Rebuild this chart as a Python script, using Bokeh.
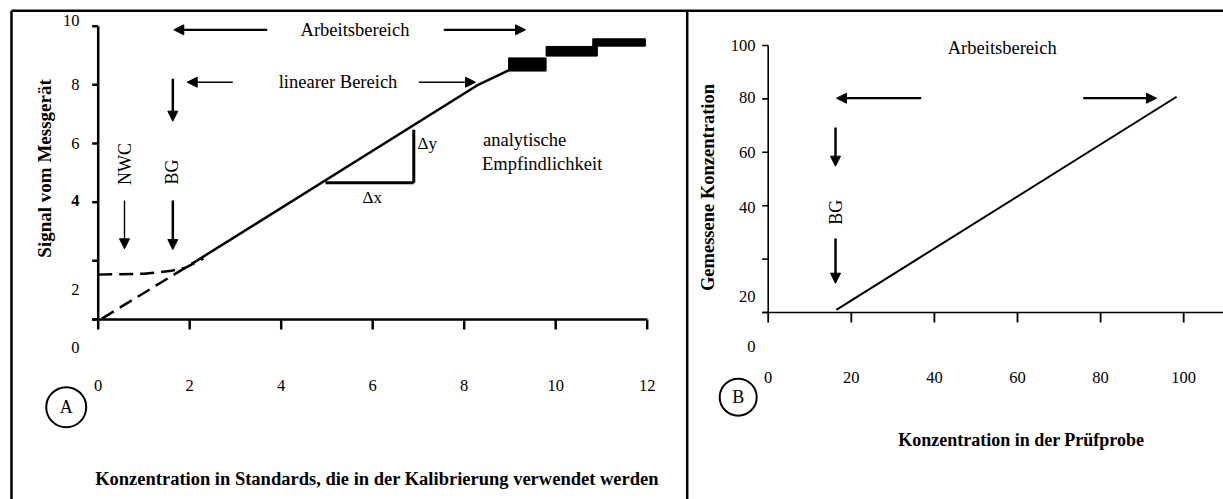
from math import pi
from bokeh.plotting import figure
from bokeh.models import Range1d, Arrow, NormalHead, ColumnDataSource
from bokeh.core.properties import value
from bokeh.embed import file_html
from bokeh.resources import INLINE

# ---------------- data ----------------
# Panel A: calibration function (signal vs. concentration of standards)
a_linear_x = [2.15, 8.28, 8.97]
a_linear_y = [2.00, 7.98, 8.49]
a_extrap_x = [0.08, 2.15]
a_extrap_y = [0.03, 2.00]
a_blank_x = [0.0, 1.0, 1.6, 1.9, 2.3]
a_blank_y = [1.53, 1.56, 1.66, 1.76, 2.08]
a_sat_left = [8.97, 9.79, 10.81]
a_sat_right = [9.79, 10.91, 11.96]
a_sat_bottom = [8.47, 8.98, 9.32]
a_sat_top = [8.92, 9.31, 9.57]
a_xticks = [0, 2, 4, 6, 8, 10, 12]
a_xtick_labels = ["0", "2", "4", "6", "8", "10", "12"]
a_yticks = [0, 2, 4, 6, 8, 10]
a_ytick_labels = ["0", "2", "4", "6", "8", "10"]

# Panel B: measured vs. true concentration
b_line_x = [16.4, 98.3]
b_line_y = [1.0, 80.8]
b_xticks = [0, 20, 40, 60, 80, 100]
b_xtick_labels = ["0", "20", "40", "60", "80", "100"]
b_yticks = [0, 20, 40, 60, 80, 100]
b_ytick_labels = ["0", "20", "40", "60", "80", "100"]

# ---------------- layout (scales) ----------------
W, H = 1223, 499
PAGE_X0, PAGE_Y0 = 0, 0
# panel A: data origin / pixels per unit
A_OX, A_OY, A_PX, A_PY = 97.7, 319.0, 45.75, 29.33
# panel B
B_OX, B_OY, B_PX, B_PY = 767.7, 312.0, 4.155, 2.67

a_xr = Range1d((PAGE_X0 - A_OX) / A_PX, (PAGE_X0 + W - A_OX) / A_PX)
a_yr = Range1d((A_OY - PAGE_Y0 - H) / A_PY, (A_OY - PAGE_Y0) / A_PY)
b_xr = Range1d((PAGE_X0 - B_OX) / B_PX, (PAGE_X0 + W - B_OX) / B_PX)
b_yr = Range1d((B_OY - PAGE_Y0 - H) / B_PY, (B_OY - PAGE_Y0) / B_PY)

p = figure(width=W, height=H, output_backend="svg", toolbar_location=None,
           x_range=a_xr, y_range=a_yr, x_axis_type=None, y_axis_type=None,
           min_border=0)
p.grid.visible = False
p.outline_line_color = None
p.background_fill_color = "white"
p.border_fill_color = "white"
p.extra_x_ranges = {"bx": b_xr}
p.extra_y_ranges = {"by": b_yr}

SERIF = value("Liberation Serif")
BK = dict(x_range_name="bx", y_range_name="by")


def kw(panel):
    return BK if panel == "B" else {}


def add_text(xs, ys, texts, size="18.5px", style="normal", angle=0.0,
             align="center", panel="A"):
    p.text(x=xs, y=ys, text=texts, text_font=SERIF, text_font_size=value(size),
           text_font_style=value(style), text_align=value(align),
           text_baseline=value("middle"), angle=angle, text_color="black",
           **kw(panel))


def add_arrow(x0, y0, x1, y1, width=2.0, head=10, panel="A"):
    p.add_layout(Arrow(end=NormalHead(size=head, fill_color="black",
                                      line_color="black", line_width=1),
                       x_start=x0, y_start=y0, x_end=x1, y_end=y1,
                       line_width=width, line_color="black", **kw(panel)))


# ---------------- panel borders ----------------
top_y = (A_OY - 10.3) / A_PY
left_x = (11.0 - A_OX) / A_PX
div_x = (686.7 - A_OX) / A_PX
p.segment(x0=[left_x, left_x, div_x], y0=[top_y, top_y, top_y],
          x1=[a_xr.end + 1, left_x, div_x], y1=[top_y, a_yr.start - 1, a_yr.start - 1],
          line_color="black", line_width=2.5)

# ---------------- panel A axes ----------------
a_tx = 6 / A_PX
a_ty = 10 / A_PY
p.segment(x0=[0, -a_tx], y0=[0, 0], x1=[0, max(a_xticks)], y1=[max(a_yticks), 0],
          line_color="black", line_width=2.5)
p.segment(x0=[-a_tx] * len(a_yticks), y0=a_yticks, x1=[0] * len(a_yticks), y1=a_yticks,
          line_color="black", line_width=2.5)
p.segment(x0=a_xticks, y0=[0] * len(a_xticks), x1=a_xticks, y1=[-a_ty] * len(a_xticks),
          line_color="black", line_width=2.5)
add_text(a_xticks, [-2.25] * len(a_xticks), a_xtick_labels, size="16.5px")
a_ylab_pos = [-0.955, 1.023, 4.057, 6.017, 8.013, 10.21]
a_ylab_style = ["normal", "normal", "bold", "normal", "normal", "normal"]
src = ColumnDataSource(dict(x=[-0.409] * len(a_yticks), y=a_ylab_pos,
                            t=a_ytick_labels, s=a_ylab_style))
p.text(x="x", y="y", text="t", source=src, text_font=SERIF,
       text_font_size="16.5px", text_font_style="s", text_align="right",
       text_baseline="middle", text_color="black")

# ---------------- panel A curves ----------------
p.line(a_linear_x, a_linear_y, line_color="black", line_width=2.5)
p.line(a_extrap_x, a_extrap_y, line_color="black", line_width=2.5, line_dash="14 7")
p.line(a_blank_x, a_blank_y, line_color="black", line_width=2.5, line_dash="14 7")
p.quad(left=a_sat_left, right=a_sat_right, bottom=a_sat_bottom, top=a_sat_top,
       fill_color="black", line_color="black")

# sensitivity triangle
p.segment(x0=[4.968, 6.898], y0=[4.661, 4.661], x1=[6.898, 6.898], y1=[4.661, 6.468],
          line_color="black", line_width=3)
add_text([5.989], [4.17], ["Δx"], size="17px")
add_text([7.191], [5.99], ["Δy"], size="17px")
add_text([8.41, 8.39], [6.103, 5.309], ["analytische", "Empfindlichkeit"],
         size="18.5px", align="left")

# ranges
add_text([5.613], [9.877], ["Arbeitsbereich"])
add_arrow(3.694, 9.877, 1.652, 9.877, width=2.2)
add_arrow(7.554, 9.877, 9.340, 9.877, width=2.2)
add_text([5.242], [8.091], ["linearer Bereich"])
add_arrow(2.942, 8.091, 1.945, 8.091, width=1.4)
add_arrow(7.008, 8.091, 8.247, 8.091, width=1.4)

# BG / NWC markers
add_arrow(1.631, 8.207, 1.631, 6.761, width=2.5)
add_text([1.624], [5.029], ["BG"], size="18px", angle=pi / 2)
add_text([0.575], [5.302], ["NWC"], size="18px", angle=pi / 2)
add_arrow(0.575, 4.057, 0.575, 2.41, width=1.4)
add_arrow(1.631, 4.057, 1.631, 2.387, width=2.5)

# panel label and titles
p.scatter([-0.699], [-2.99], size=40, marker="circle", fill_color=None,
          line_color="black", line_width=2)
add_text([-0.699], [-3.0], ["A"], size="18px")
add_text([6.094], [-5.43],
         ["Konzentration in Standards, die in der Kalibrierung verwendet werden"],
         size="18.5px", style="bold")
add_text([-1.174], [5.15], ["Signal vom Messgerät"], size="19px", style="bold",
         angle=pi / 2)

# ---------------- panel B axes ----------------
b_tx = 6 / B_PX
b_ty = 10 / B_PY
p.segment(x0=[0, -b_tx], y0=[0, 0], x1=[0, b_xr.end + 5], y1=[max(b_yticks), 0],
          line_color="black", line_width=1.6, **BK)
p.segment(x0=[-b_tx] * len(b_yticks), y0=b_yticks, x1=[0] * len(b_yticks), y1=b_yticks,
          line_color="black", line_width=1.6, **BK)
p.segment(x0=b_xticks, y0=[0] * len(b_xticks), x1=b_xticks, y1=[-b_ty] * len(b_xticks),
          line_color="black", line_width=1.8, **BK)
add_text(b_xticks, [-24.46] * len(b_xticks), b_xtick_labels, size="16.5px", panel="B")
b_ylab_pos = [-12.6, 6.0, 39.3, 59.9, 80.5, 100.0]
add_text([-3.06] * len(b_yticks), b_ylab_pos, b_ytick_labels, size="16.5px",
         align="right", panel="B")

# ---------------- panel B curve ----------------
p.line(b_line_x, b_line_y, line_color="black", line_width=2, **BK)

add_text([56.32], [98.99], ["Arbeitsbereich"], panel="B")
add_arrow(36.82, 80.26, 16.44, 80.26, width=2.2, panel="B")
add_arrow(75.81, 80.26, 93.45, 80.26, width=2.2, panel="B")
add_arrow(16.2, 69.29, 16.2, 54.79, width=2.5, panel="B")
add_text([16.2], [37.57], ["BG"], size="18px", angle=pi / 2, panel="B")
add_arrow(16.2, 27.72, 16.2, 10.97, width=2.5, panel="B")

p.scatter([-7.22], [-31.72], size=37, marker="circle", fill_color=None,
          line_color="black", line_width=2, **BK)
add_text([-7.22], [-31.8], ["B"], size="18px", panel="B")
add_text([60.9], [-47.57], ["Konzentration in der Prüfprobe"], size="18px",
         style="bold", panel="B")
add_text([-14.37], [46.8], ["Gemessene Konzentration"], size="18.5px", style="bold",
         angle=pi / 2, panel="B")

open("out.html", "w").write(file_html(p, INLINE))
